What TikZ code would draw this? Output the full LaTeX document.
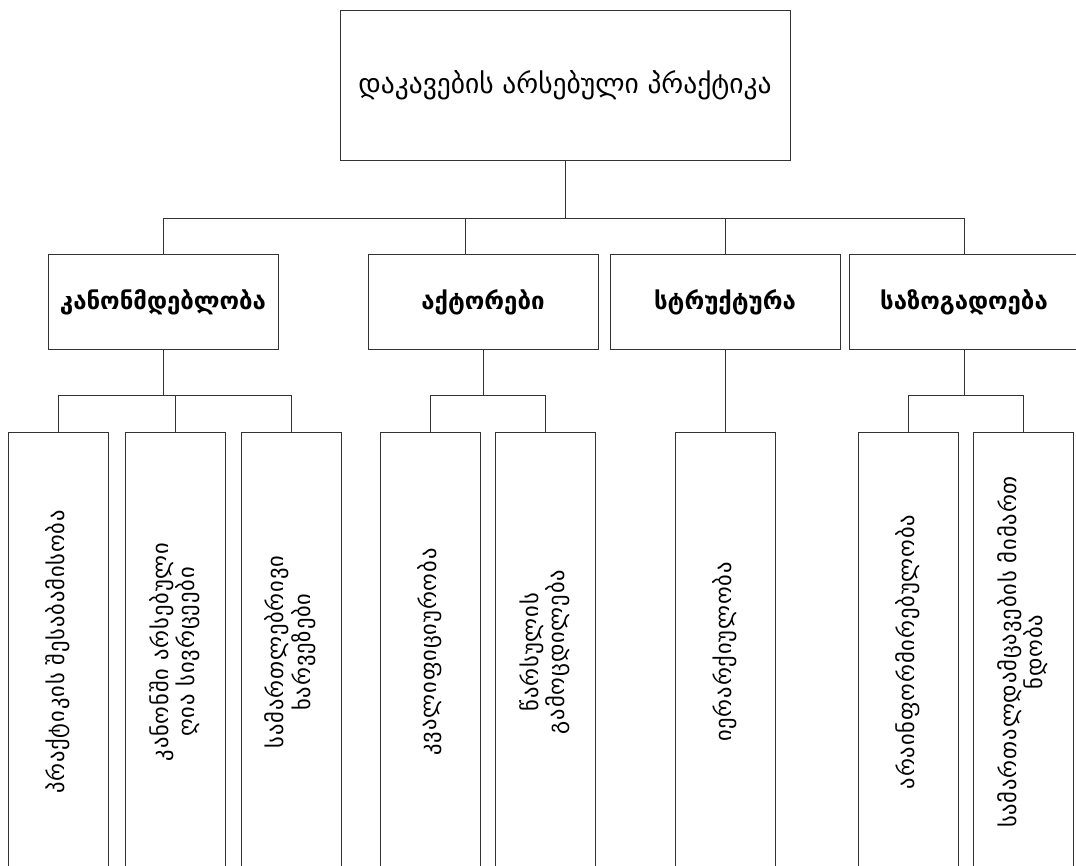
\documentclass[tikz,border=0pt]{standalone}
\usepackage{fontspec}
\usepackage{graphicx}
\setmainfont{DejaVu Sans}
\newfontfamily\leaffont[LetterSpace=4]{DejaVu Sans}
\usetikzlibrary{positioning}

\begin{document}
\begin{tikzpicture}[x=1pt, y=1pt,
		Link/.style={draw=black!80, line width=0.8pt}
	]
	\tikzstyle{Box} = [ %plain frame of every box
		draw=black!80,
		line width=0.8pt,
		text centered
	]
	\tikzstyle{TopNode} = [
		Box,
		minimum width=450pt,
		minimum height=150pt,
		font=\fontsize{27.5}{33}\selectfont
	]
	\tikzstyle{MidNode} = [
		Box,
		minimum width=230pt,
		minimum height=95pt,
		font=\bfseries\fontsize{24}{29}\selectfont
	]
	\tikzstyle{LeafNode} = [
		Box,
		minimum width=100pt,
		minimum height=440pt,
		inner sep=0pt,
		font=\leaffont\fontsize{22.5}{26}\selectfont
	]

	\useasboundingbox (0,0) rectangle (1076,-865);

	\node (top) [TopNode] at (565,-85) {დაკავების არსებული პრაქტიკა};

	\node (law) [MidNode] at (163,-302) {კანონმდებლობა};
	\node (act) [MidNode] at (483,-302) {აქტორები};
	\node (str) [MidNode] at (725,-302) {სტრუქტურა};
	\node (soc) [MidNode] at (964,-302) {საზოგადოება};

	\node (l1) [LeafNode] at (58,-652) {\rotatebox{90}{პრაქტიკის შესაბამისობა}};
	\node (l2) [LeafNode, right = 17pt of l1] {\rotatebox{90}{\begin{tabular}{@{}c@{}}კანონში არსებული\\ღია სივრცეები\end{tabular}}};
	\node (l3) [LeafNode, right = 15pt of l2] {\rotatebox{90}{\begin{tabular}{@{}c@{}}სამართლებრივი\\ხარვეზები\end{tabular}}};

	\node (a1) [LeafNode] at (430,-652) {\rotatebox{90}{კვალიფიციურობა}};
	\node (a2) [LeafNode, right = 15pt of a1] {\rotatebox{90}{\begin{tabular}{@{}c@{}}წარსულის\\გამოცდილება\end{tabular}}};

	\node (s1) [LeafNode] at (725,-652) {\rotatebox{90}{იერარქიულობა}};

	\node (c1) [LeafNode] at (908,-652) {\rotatebox{90}{არაინფორმირებულობა}};
	\node (c2) [LeafNode, right = 15pt of c1] {\rotatebox{90}{\begin{tabular}{@{}c@{}}სამართალდამცავების მიმართ\\ნდობა\end{tabular}}};

	\foreach \c in {law, str, soc}
		\draw[Link] (top.south) -- ++(0,-58) -| (\c.north);
	\draw[Link] (top.south) -- ++(0,-58) -| ([xshift=-18pt]act.north);

	\foreach \c in {l1, l2, l3}
		\draw[Link] (law.south) -- ++(0,-45) -| (\c.north);
	\foreach \c in {a1, a2}
		\draw[Link] (act.south) -- ++(0,-45) -| (\c.north);
	\draw[Link] (str.south) -- (s1.north);
	\foreach \c in {c1, c2}
		\draw[Link] (soc.south) -- ++(0,-45) -| (\c.north);
\end{tikzpicture}
\end{document}
